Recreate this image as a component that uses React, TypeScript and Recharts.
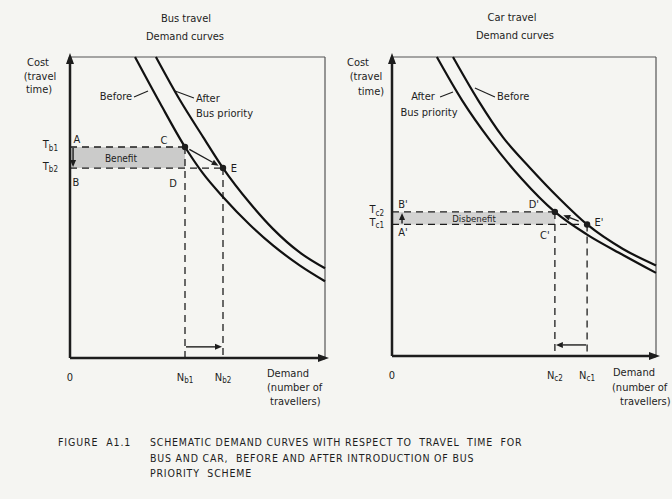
import React from 'react';
import {
  LineChart,
  Line,
  XAxis,
  YAxis,
  ReferenceLine,
  ReferenceDot,
  ReferenceArea,
} from 'recharts';

const FONT = '"DejaVu Sans Condensed", "Liberation Sans Narrow", "DejaVu Sans", sans-serif';
const INK = '#1d1d1d';
const PAPER = '#f5f5f2';

type Pt = [number, number];

// demand (0-100) vs cost / travel time (0-100)
const busBefore: Pt[] = [[25.5, 100], [35.3, 84.7], [45.1, 70.1], [52, 61.5], [60, 53.5], [70.6, 44.2], [79.6, 37.4], [90.2, 30.7], [100, 25.5]];
const busAfter: Pt[] = [[33.7, 100], [43.1, 85.7], [52.2, 73.4], [60, 63.1], [70.6, 51.4], [79.6, 42.9], [90.2, 35], [100, 29.8]];
const carBefore: Pt[] = [[23.1, 100], [32.6, 85.6], [42, 73.2], [52.3, 62.9], [62.9, 53.1], [73.9, 44], [87.5, 35.8], [100, 30.3]];
const carAfter: Pt[] = [[17, 100], [26.5, 85.6], [37.1, 72.2], [49.2, 59.2], [61.7, 48.2], [73.9, 40.6], [87.5, 33.8], [100, 27.8]];

// equilibrium points
const Nb = [45.1, 60]; // Nb1, Nb2
const Tb = [70.1, 63.1]; // Tb1, Tb2
const Nc = [73.9, 61.7]; // Nc1, Nc2
const Tc = [44, 48.2]; // Tc1, Tc2

// tick labels: [main, subscript]
const busXLabels = [['0', ''], ['N', 'b1'], ['N', 'b2']];
const busYLabels = [['T', 'b1'], ['T', 'b2']];
const carXLabels = [['0', ''], ['N', 'c2'], ['N', 'c1']];
const carYLabels = [['T', 'c2'], ['T', 'c1']];

const rows = (pts: Pt[]) => pts.map(([x, y]) => ({ x, y }));

const dash = { stroke: INK, strokeWidth: 1.3, strokeDasharray: '7 5' };

function arrow(trim = 0) {
  return (p: any) => {
    let { x1, y1, x2, y2 } = p;
    const len = Math.hypot(x2 - x1, y2 - y1) || 1;
    const ux = (x2 - x1) / len;
    const uy = (y2 - y1) / len;
    x1 += ux * trim; y1 += uy * trim; x2 -= ux * trim; y2 -= uy * trim;
    const bx = x2 - ux * 7;
    const by = y2 - uy * 7;
    return (
      <g>
        <line x1={x1} y1={y1} x2={bx} y2={by} stroke={INK} strokeWidth={1.4} />
        <polygon points={`${x2},${y2} ${bx - uy * 3},${by + ux * 3} ${bx + uy * 3},${by - ux * 3}`} fill={INK} />
      </g>
    );
  };
}

const leader = (p: any) => (
  <line x1={p.x1} y1={p.y1} x2={p.x2} y2={p.y2} stroke={INK} strokeWidth={1.1} />
);

const tag = (text: string, dx: number, dy: number, size = 11) => (p: any) => (
  <text x={p.cx + dx} y={p.cy + dy} textAnchor="middle" dominantBaseline="central"
    fontSize={size} fontFamily={FONT} fill={INK}>{text}</text>
);

const headUp = (p: any) => (
  <polygon points={`${p.cx},${p.cy - 4} ${p.cx - 4},${p.cy + 7} ${p.cx + 4},${p.cy + 7}`} fill={INK} />
);
const headRight = (p: any) => (
  <polygon points={`${p.cx + 4},${p.cy} ${p.cx - 7},${p.cy - 4} ${p.cx - 7},${p.cy + 4}`} fill={INK} />
);

function sub(main: string, s: string, x: number, y: number, anchor: 'middle' | 'end') {
  return (
    <text x={x} y={y} textAnchor={anchor} dominantBaseline="central" fontSize={11} fontFamily={FONT} fill={INK}>
      {main}
      <tspan fontSize={8} dy={3}>{s}</tspan>
    </text>
  );
}

const xTick = (labels: string[][]) => (p: any) => {
  const [m, s] = labels[p.index] ?? ['', ''];
  return sub(m, s, p.x, p.y + 19, 'middle');
};
const yTick = (labels: string[][], gap: number) => (p: any) => {
  const [m, s] = labels[p.index] ?? ['', ''];
  return sub(m, s, p.x - gap, p.y - 2, 'end');
};

function Frame() {
  return (
    <>
      <ReferenceLine y={100} stroke="#555" strokeWidth={1.2} />
      <ReferenceLine x={100} stroke="#555" strokeWidth={1.2} />
    </>
  );
}

function BusChart() {
  return (
    <LineChart width={340} height={420} margin={{ top: 57, right: 15, bottom: 0, left: 0 }}
      style={{ position: 'absolute', left: 0, top: 0 }}>
      <XAxis dataKey="x" type="number" domain={[0, 100]} ticks={[0, ...Nb]} interval={0}
        tickSize={0} tickMargin={0} height={62} axisLine={{ stroke: INK, strokeWidth: 2.5 }} tickLine={false}
        tick={xTick(busXLabels)} />
      <YAxis type="number" domain={[0, 100]} ticks={Tb} interval={0} width={70}
        tickSize={0} tickMargin={0} axisLine={{ stroke: INK, strokeWidth: 2.5 }} tickLine={false}
        tick={yTick(busYLabels, 12)} />
      <ReferenceArea x1={0} x2={Nb[0]} y1={Tb[1]} y2={Tb[0]} fill="#c3c3c3" fillOpacity={0.85} stroke="none" />
      <Frame />
      <ReferenceLine segment={[{ x: 0, y: Tb[0] }, { x: Nb[0], y: Tb[0] }]} {...dash} />
      <ReferenceLine segment={[{ x: 0, y: Tb[1] }, { x: Nb[1], y: Tb[1] }]} {...dash} />
      <ReferenceLine segment={[{ x: Nb[0], y: Tb[0] }, { x: Nb[0], y: 0 }]} {...dash} />
      <ReferenceLine segment={[{ x: Nb[1], y: Tb[1] }, { x: Nb[1], y: 0 }]} {...dash} />
      <Line data={rows(busBefore)} dataKey="y" type="monotone" stroke="#111" strokeWidth={2.2} dot={false} isAnimationActive={false} />
      <Line data={rows(busAfter)} dataKey="y" type="monotone" stroke="#111" strokeWidth={2.2} dot={false} isAnimationActive={false} />
      <ReferenceLine segment={[{ x: Nb[0], y: Tb[0] }, { x: Nb[1], y: Tb[1] }]} shape={arrow(5)} />
      <ReferenceLine segment={[{ x: 1.2, y: Tb[0] }, { x: 1.2, y: Tb[1] }]} shape={arrow(1)} />
      <ReferenceLine segment={[{ x: Nb[0], y: 3.7 }, { x: Nb[1], y: 3.7 }]} shape={arrow(1)} />
      <ReferenceLine segment={[{ x: 25.1, y: 86.7 }, { x: 30.6, y: 88.7 }]} shape={leader} />
      <ReferenceLine segment={[{ x: 41.2, y: 88.7 }, { x: 48.6, y: 86.4 }]} shape={leader} />
      <ReferenceDot x={Nb[0]} y={Tb[0]} r={3.2} fill={INK} stroke="none" />
      <ReferenceDot x={Nb[1]} y={Tb[1]} r={3.2} fill={INK} stroke="none" />
      <ReferenceDot x={0} y={100} shape={headUp} />
      <ReferenceDot x={100} y={0} shape={headRight} />
      <ReferenceDot x={0} y={Tb[0]} shape={tag('A', 7, -7)} />
      <ReferenceDot x={0} y={Tb[1]} shape={tag('B', 6, 14)} />
      <ReferenceDot x={Nb[0]} y={Tb[0]} shape={tag('C', -21, -6)} />
      <ReferenceDot x={Nb[0]} y={Tb[1]} shape={tag('D', -12, 15)} />
      <ReferenceDot x={Nb[1]} y={Tb[1]} shape={tag('E', 11, 0)} />
      <ReferenceDot x={0} y={Tb[1]} shape={tag('Benefit', 51, -10, 10)} />
    </LineChart>
  );
}

function CarChart() {
  return (
    <LineChart width={350} height={420} margin={{ top: 57, right: 16, bottom: 0, left: 0 }}
      style={{ position: 'absolute', left: 322, top: 0 }}>
      <XAxis dataKey="x" type="number" domain={[0, 100]} ticks={[0, Nc[1], Nc[0]]} interval={0}
        tickSize={0} tickMargin={0} height={64} axisLine={{ stroke: INK, strokeWidth: 2.5 }} tickLine={false}
        tick={xTick(carXLabels)} />
      <YAxis type="number" domain={[0, 100]} ticks={[Tc[1], Tc[0]]} interval={0} width={70}
        tickSize={0} tickMargin={0} axisLine={{ stroke: INK, strokeWidth: 2.5 }} tickLine={false}
        tick={yTick(carYLabels, 8)} />
      <ReferenceArea x1={0} x2={Nc[1]} y1={Tc[0]} y2={Tc[1]} fill="#cdcdcd" fillOpacity={0.85} stroke="none" />
      <Frame />
      <ReferenceLine segment={[{ x: 0, y: Tc[1] }, { x: Nc[1], y: Tc[1] }]} {...dash} />
      <ReferenceLine segment={[{ x: 0, y: Tc[0] }, { x: Nc[0], y: Tc[0] }]} {...dash} />
      <ReferenceLine segment={[{ x: Nc[1], y: Tc[1] }, { x: Nc[1], y: 0 }]} {...dash} />
      <ReferenceLine segment={[{ x: Nc[0], y: Tc[0] }, { x: Nc[0], y: 0 }]} {...dash} />
      <Line data={rows(carBefore)} dataKey="y" type="monotone" stroke="#111" strokeWidth={2.2} dot={false} isAnimationActive={false} />
      <Line data={rows(carAfter)} dataKey="y" type="monotone" stroke="#111" strokeWidth={2.2} dot={false} isAnimationActive={false} />
      <ReferenceLine segment={[{ x: Nc[0], y: Tc[0] }, { x: Nc[1], y: Tc[1] }]} shape={arrow(9)} />
      <ReferenceLine segment={[{ x: 3.8, y: Tc[0] }, { x: 3.8, y: Tc[1] }]} shape={arrow(1)} />
      <ReferenceLine segment={[{ x: Nc[0], y: 3.7 }, { x: Nc[1], y: 3.7 }]} shape={arrow(1)} />
      <ReferenceLine segment={[{ x: 18.2, y: 86.6 }, { x: 23.1, y: 88.3 }]} shape={leader} />
      <ReferenceLine segment={[{ x: 31.4, y: 89.6 }, { x: 39, y: 86.6 }]} shape={leader} />
      <ReferenceDot x={Nc[1]} y={Tc[1]} r={3.2} fill={INK} stroke="none" />
      <ReferenceDot x={Nc[0]} y={Tc[0]} r={3.2} fill={INK} stroke="none" />
      <ReferenceDot x={0} y={100} shape={headUp} />
      <ReferenceDot x={100} y={0} shape={headRight} />
      <ReferenceDot x={0} y={Tc[1]} shape={tag("B'", 11, -7)} />
      <ReferenceDot x={0} y={Tc[0]} shape={tag("A'", 11, 8)} />
      <ReferenceDot x={Nc[1]} y={Tc[1]} shape={tag("D'", -21, -7)} />
      <ReferenceDot x={Nc[1]} y={Tc[0]} shape={tag("C'", -10, 11)} />
      <ReferenceDot x={Nc[0]} y={Tc[0]} shape={tag("E'", 12, -2)} />
      <ReferenceDot x={0} y={Tc[0]} shape={tag('Disbenefit', 82, -6, 9.5)} />
    </LineChart>
  );
}

const texts: { t: string; x: number; y: number; a?: 'left' | 'center' }[] = [
  { t: 'Bus travel', x: 186, y: 19, a: 'center' },
  { t: 'Demand curves', x: 185, y: 37, a: 'center' },
  { t: 'Car travel', x: 512, y: 18, a: 'center' },
  { t: 'Demand curves', x: 515, y: 36, a: 'center' },
  { t: 'Cost', x: 38, y: 63, a: 'center' },
  { t: '(travel', x: 40, y: 77, a: 'center' },
  { t: 'time)', x: 39, y: 90, a: 'center' },
  { t: 'Cost', x: 358, y: 63, a: 'center' },
  { t: '(travel', x: 366, y: 77, a: 'center' },
  { t: 'time)', x: 371, y: 92, a: 'center' },
  { t: 'Before', x: 116, y: 97, a: 'center' },
  { t: 'After', x: 196, y: 99 },
  { t: 'Bus priority', x: 196, y: 114 },
  { t: 'After', x: 423, y: 97, a: 'center' },
  { t: 'Bus priority', x: 429, y: 113, a: 'center' },
  { t: 'Before', x: 497, y: 97 },
  { t: 'Demand', x: 267, y: 374 },
  { t: '(number of', x: 267, y: 388 },
  { t: 'travellers)', x: 270, y: 402 },
  { t: 'Demand', x: 613, y: 373 },
  { t: '(number of', x: 612, y: 388 },
  { t: 'travellers)', x: 620, y: 402 },
];

const caption = [
  'SCHEMATIC DEMAND CURVES WITH RESPECT TO  TRAVEL  TIME  FOR',
  'BUS AND CAR,  BEFORE AND AFTER INTRODUCTION OF BUS',
  'PRIORITY  SCHEME',
];

export default function App() {
  return (
    <div style={{ position: 'absolute', left: 0, top: 0, width: 672, height: 499, background: PAPER, overflow: 'hidden', fontFamily: FONT, color: INK }}>
      <BusChart />
      <CarChart />
      {texts.map((d, i) => (
        <div key={i} style={{
          position: 'absolute', left: d.x, top: d.y, fontSize: 11, lineHeight: '12px', whiteSpace: 'nowrap',
          transform: d.a === 'center' ? 'translate(-50%, -50%)' : 'translate(0, -50%)',
        }}>{d.t}</div>
      ))}
      <div style={{ position: 'absolute', left: 58, top: 442, transform: 'translateY(-50%)', fontSize: 10.5, letterSpacing: 0.9, whiteSpace: 'pre' }}>
        FIGURE  A1.1
      </div>
      {caption.map((line, i) => (
        <div key={i} style={{ position: 'absolute', left: 150, top: 442 + i * 15.5, transform: 'translateY(-50%)', fontSize: 10.5, letterSpacing: 0.8, whiteSpace: 'pre' }}>
          {line}
        </div>
      ))}
    </div>
  );
}
